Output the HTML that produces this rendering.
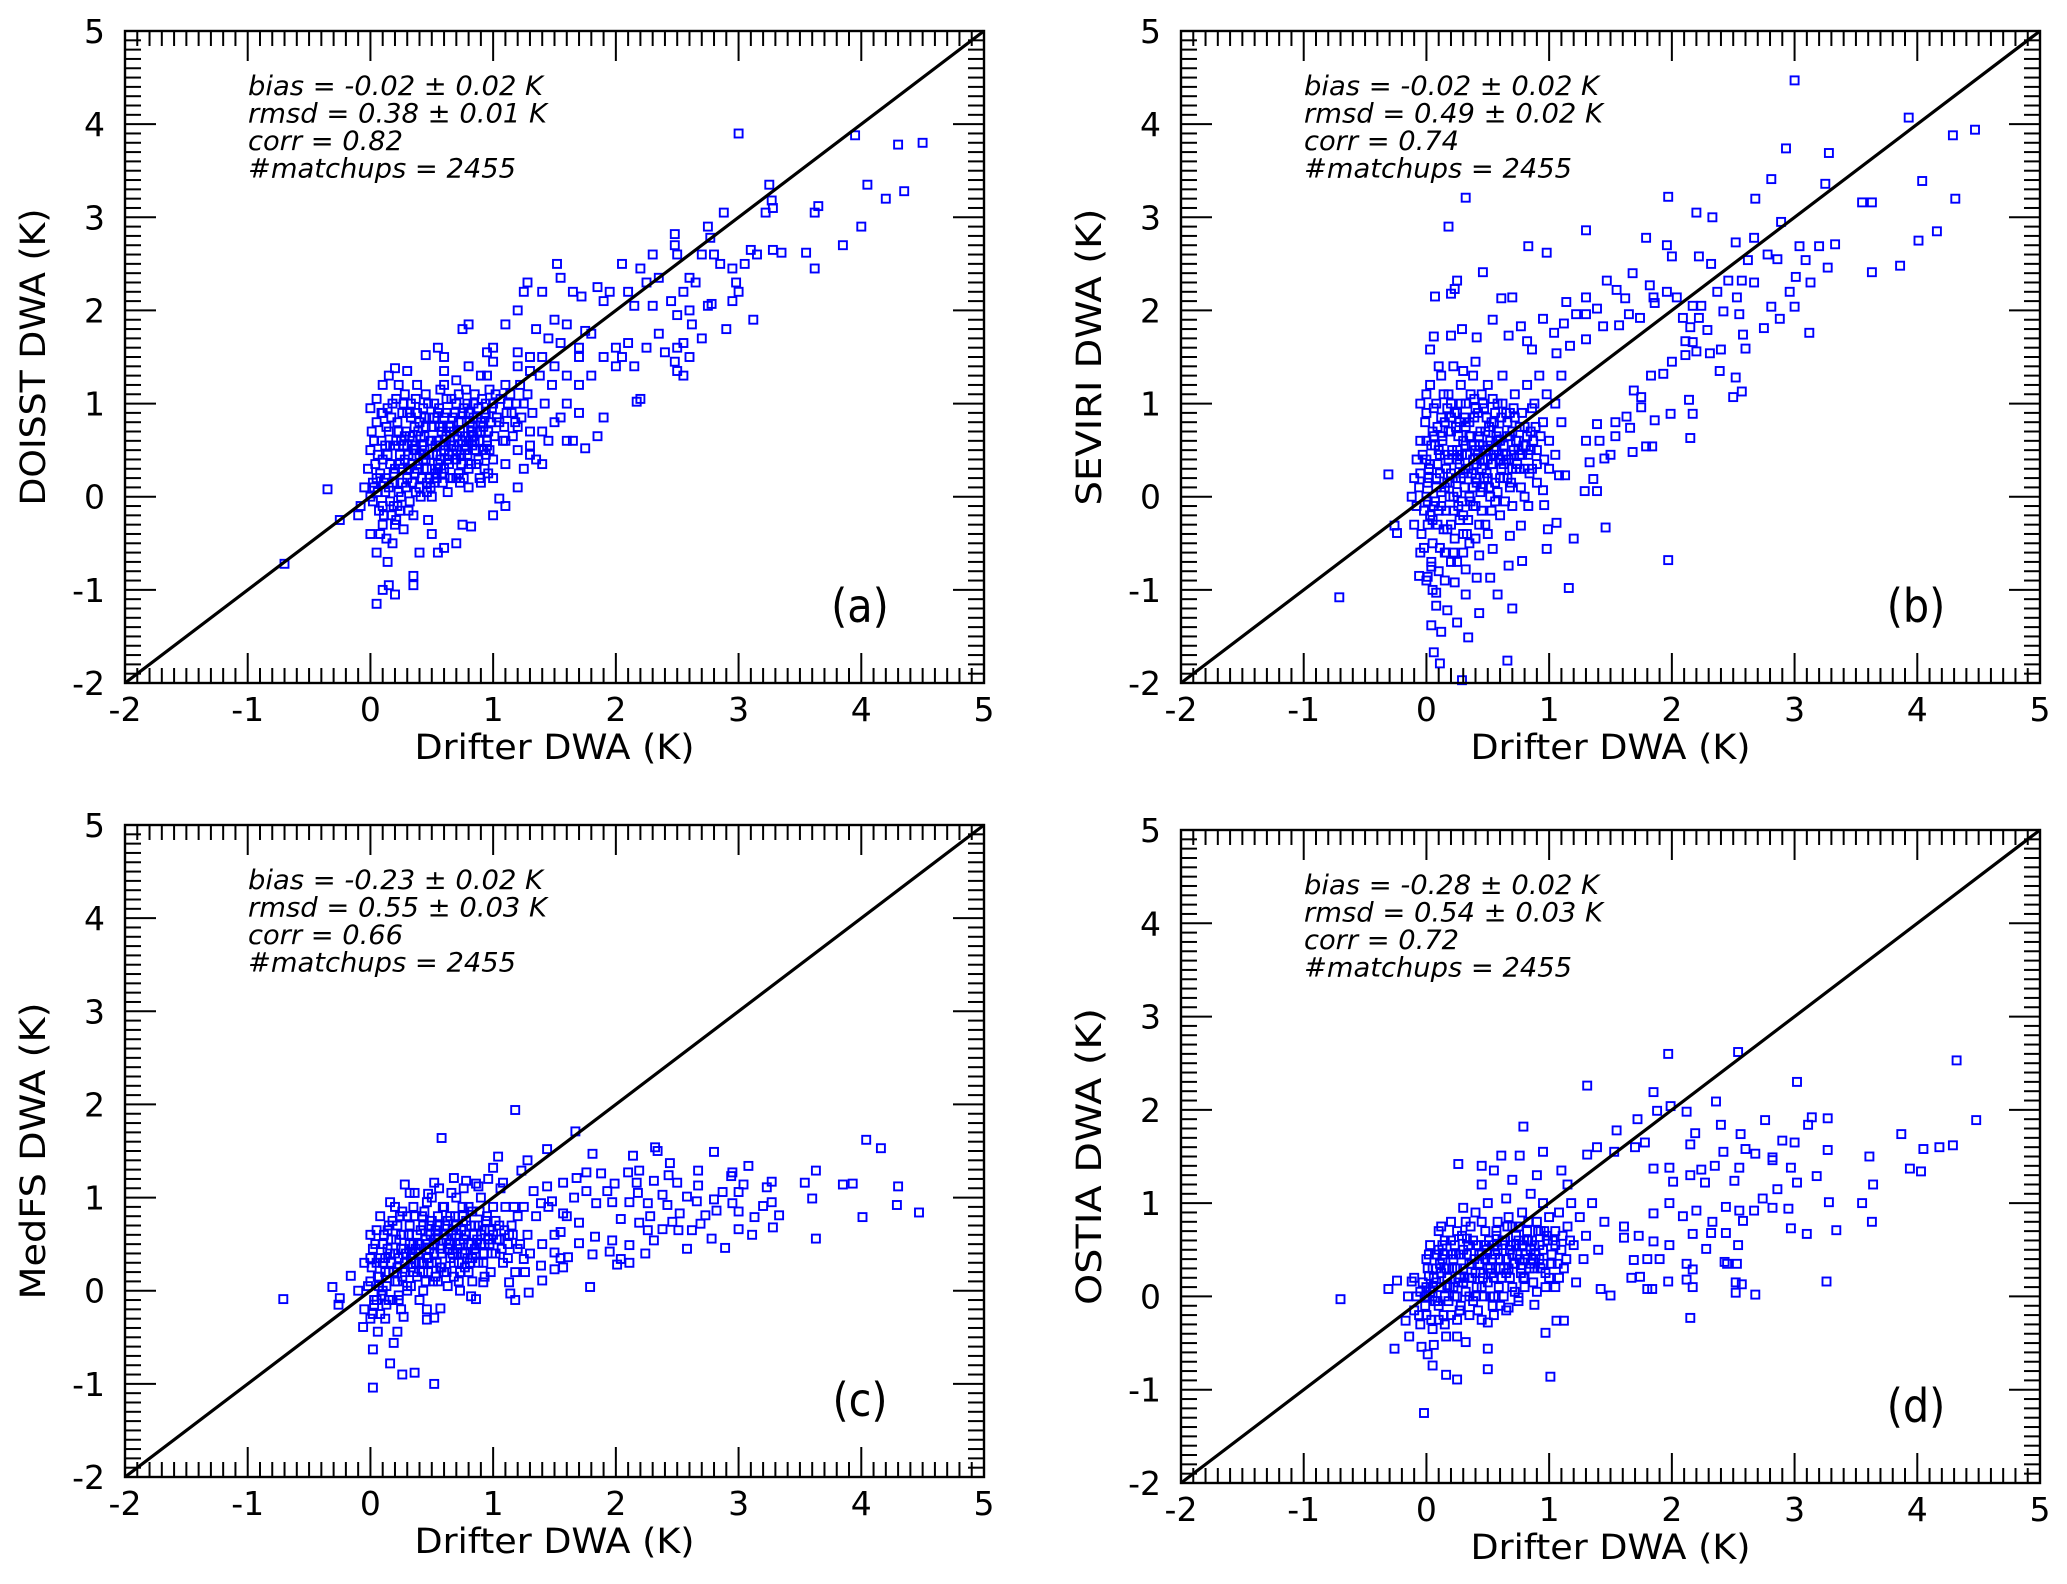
<!DOCTYPE html>
<html><head><meta charset="utf-8">
<style>
html,body{margin:0;padding:0;background:#fff;}
svg{display:block;}
text{font-family:"DejaVu Sans","Liberation Sans",sans-serif;fill:#000;}
.stat{font-family:"DejaVu Sans Condensed","DejaVu Sans","Liberation Sans",sans-serif;font-style:italic;font-size:27px;}
.plab{font-family:"DejaVu Sans Condensed","DejaVu Sans","Liberation Sans",sans-serif;font-size:46px;}
</style></head>
<body>
<svg id="fig" width="2067" height="1584" viewBox="0 0 2067 1584" xmlns="http://www.w3.org/2000/svg"></svg>
<script>
const xTicks=[-2,-1,0,1,2,3,4,5];
const yTicks=[-2,-1,0,1,2,3,4,5];
const panelLetters=["(a)","(b)","(c)","(d)"];
const yTitles=["DOISST DWA (K)","SEVIRI DWA (K)","MedFS DWA (K)","OSTIA DWA (K)"];
const statsA=["bias = -0.02 \u00b1 0.02 K","rmsd = 0.38 \u00b1 0.01 K","corr = 0.82","#matchups = 2455"];
const statsB=["bias = -0.02 \u00b1 0.02 K","rmsd = 0.49 \u00b1 0.02 K","corr = 0.74","#matchups = 2455"];
const statsC=["bias = -0.23 \u00b1 0.02 K","rmsd = 0.55 \u00b1 0.03 K","corr = 0.66","#matchups = 2455"];
const statsD=["bias = -0.28 \u00b1 0.02 K","rmsd = 0.54 \u00b1 0.03 K","corr = 0.72","#matchups = 2455"];

const ptsA=[[3.0,3.9],[3.95,3.88],[4.3,3.78],[4.5,3.8],[3.25,3.35],[3.27,3.18],[3.28,3.1],[3.22,3.05],[4.05,3.35],[4.2,3.2],[4.35,3.28],[3.65,3.12],[3.62,3.05],[4.0,2.9],[3.85,2.7],[3.55,2.62],[3.62,2.45],[3.35,2.62],[3.28,2.65],[3.1,2.65],[3.15,2.6],[3.05,2.5],[2.95,2.45],[2.98,2.3],[3.0,2.2],[2.95,2.1],[3.12,1.9],[2.85,2.5],[2.8,2.6],[2.75,2.9],[2.88,3.05],[2.77,2.78],[2.48,2.82],[2.48,2.7],[2.3,2.6],[2.05,2.5],[2.2,2.45],[2.5,2.6],[2.7,2.6],[2.25,2.3],[2.35,2.35],[2.45,2.1],[2.55,2.2],[2.6,2.35],[2.65,2.3],[2.1,2.2],[1.95,2.2],[2.15,2.05],[2.3,2.05],[2.5,1.95],[2.6,2.0],[2.62,1.85],[2.75,2.05],[2.78,2.07],[2.9,1.8],[2.55,1.65],[2.7,1.7],[2.5,1.6],[2.4,1.55],[2.35,1.75],[2.48,1.45],[2.6,1.5],[2.5,1.35],[2.55,1.3],[2.25,1.6],[2.1,1.65],[2.05,1.5],[2.0,1.4],[2.15,1.4],[2.2,1.05],[2.17,1.02],[1.9,0.85],[1.7,0.9],[1.85,0.65],[1.65,0.6],[1.6,0.6],[1.75,0.52],[1.52,2.5],[1.55,2.35],[1.28,2.3],[1.25,2.2],[1.4,2.2],[1.65,2.2],[1.72,2.15],[1.85,2.25],[1.9,2.1],[1.2,2.0],[0.8,1.85],[0.75,1.8],[1.1,1.85],[1.35,1.8],[1.5,1.9],[1.6,1.85],[1.75,1.78],[1.8,1.75],[0.55,1.6],[0.45,1.52],[0.6,1.5],[1.0,1.6],[0.95,1.55],[0.2,1.38],[0.3,1.35],[0.15,1.3],[1.2,1.55],[1.3,1.5],[1.45,1.7],[1.55,1.65],[1.7,1.6],[1.9,1.5],[2.0,1.6],[-0.7,-0.72],[-0.35,0.08],[-0.25,-0.25],[-0.1,-0.2],[0.05,-1.15],[0.1,-1.0],[0.15,-0.95],[0.2,-1.05],[0.35,-0.95],[0.35,-0.85],[0.55,-0.6],[0.6,-0.55],[0.4,-0.6],[0.7,-0.5],[0.75,-0.3],[0.5,-0.4],[0.82,-0.32],[1.0,-0.2],[1.2,0.1],[1.05,-0.02],[1.1,-0.1],[1.25,0.3],[1.4,0.35],[1.35,0.4],[1.3,0.55],[1.45,0.6],[1.55,0.85],[1.1,0.6],[1.2,0.75],
[0,0],[0.05,0.2],[0.1,-0.1],[0.1,0.4],[0.15,0.1],[0.15,0.7],[0.2,0.3],[0.2,-0.3],[0.25,0.6],[0.25,0.0],[0.3,0.9],[0.3,0.2],[0.35,0.5],[0.35,-0.2],[0.4,0.8],[0.4,0.1],[0.45,0.4],[0.45,1.1],[0.5,0.6],[0.5,0.0],[0.55,0.9],[0.55,0.3],[0.6,0.5],[0.6,1.2],[0.65,0.7],[0.65,0.2],[0.7,1.0],[0.7,0.4],[0.75,0.6],[0.8,0.9],[0.8,0.3],[0.85,1.1],[0.85,0.5],[0.9,0.8],[0.95,1.3],[0.95,0.6],[1.0,1.0],[1.0,0.4],[1.05,0.8],[1.1,1.2],[1.15,0.9],[1.2,1.4],[1.25,1.0],[1.3,0.7],[0.0,0.5],[0.0,-0.4],[0.05,0.8],[0.05,-0.6],[0.1,0.9],[0.1,-0.3],[0.12,0.55],[0.18,1.0],[0.18,-0.5],[0.22,0.8],[0.22,-0.1],[0.28,1.1],[0.28,0.4],[0.32,0.65],[0.32,-0.05],[0.38,1.2],[0.38,0.3],[0.42,0.55],[0.48,0.85],[0.48,0.2],[0.52,1.0],[0.58,0.7],[0.62,0.9],[0.68,0.55],[0.72,0.8],[0.78,1.15],[0.82,0.7],[0.88,0.95],[0.92,0.5],[0.98,0.8],[1.02,1.1],[1.08,0.6],[1.12,1.0],[1.18,0.8],[1.22,1.2],[1.28,1.1],[1.32,0.9],[1.38,1.3],[1.42,1.0],[1.48,1.2],[0.02,0.15],[0.08,0.25],[0.12,0.05],[0.16,0.35],[0.24,0.45],[0.26,0.15],[0.34,0.35],[0.36,0.75],[0.44,0.65],[0.46,0.15],[0.54,0.45],[0.56,0.75],[0.64,0.45],[0.66,1.05],[0.74,0.35],[0.76,0.95],[0.84,0.85],[0.86,0.35],[0.94,1.0],[0.96,0.25],[-0.05,0.1],[-0.08,-0.1],[-0.02,0.3],[0.03,0.6],[0.07,-0.15],[0.13,0.75],[0.17,-0.2],[0.23,1.2],[0.27,-0.35],[0.33,1.0],[0.37,0.05],[0.43,0.95],[0.47,-0.25],[0.53,0.25],[0.57,1.15],[0.63,0.05],[0.67,0.85],[0.73,0.15],[0.77,0.5],[0.83,0.55],[0.87,0.7],[0.93,0.3],[0.97,1.15],[0.0,0.95],[0.05,1.05],[0.1,1.2],[0.14,-0.7],[0.2,0.55],[0.3,0.55],[0.4,0.45],[0.5,0.3],[0.6,0.3],[0.7,0.2],[0.8,0.1],[0.9,0.15],[1.0,0.2],[1.1,0.35],[1.2,0.5],[1.3,0.45],[1.4,0.7],[1.5,0.8],[1.6,1.0],[1.7,1.2],[1.8,1.3],[1.6,1.3],[1.7,1.5],[1.5,1.4],[1.4,1.5],[1.3,1.35],[1.0,1.45],[0.9,1.3],[0.8,1.4],[0.7,1.25],[0.6,1.35]];
const coreA=[[0.02,-0.05],[0.04,0.35],[0.06,0.05],[0.09,0.6],[0.11,-0.2],[0.13,0.2],[0.14,0.45],[0.16,-0.05],[0.17,0.85],[0.19,0.25],[0.21,0.6],[0.21,-0.25],[0.23,0.05],[0.24,0.35],[0.26,0.9],[0.27,0.55],[0.29,0.1],[0.29,0.7],[0.31,0.3],[0.31,-0.15],[0.33,0.85],[0.34,0.15],[0.36,0.5],[0.37,1.05],[0.39,0.35],[0.39,0.7],[0.41,0.0],[0.42,0.2],[0.44,0.85],[0.44,0.5],[0.46,0.3],[0.47,1.0],[0.49,0.6],[0.49,0.1],[0.51,0.45],[0.52,0.85],[0.54,0.2],[0.54,0.6],[0.56,0.95],[0.57,0.4],[0.59,0.75],[0.59,0.15],[0.61,0.55],[0.62,1.05],[0.64,0.35],[0.64,0.75],[0.66,0.55],[0.67,0.2],[0.69,0.9],[0.69,0.4],[0.71,0.65],[0.72,1.1],[0.74,0.45],[0.74,0.8],[0.76,0.2],[0.77,0.65],[0.79,1.0],[0.79,0.45],[0.81,0.8],[0.82,0.35],[0.84,0.65],[0.84,1.0],[0.86,0.5],[0.87,0.85],[0.89,0.6],[0.89,0.2],[0.91,1.05],[0.92,0.75],[0.94,0.45],[0.94,0.9],[0.96,0.7],[0.97,0.5],[0.99,0.95],[1.01,0.65],[1.03,0.85],[1.06,1.05],[1.09,0.75],[1.11,0.9],[1.14,1.1],[1.16,0.65],[1.19,1.0],[1.23,0.85],[0.01,0.7],[0.03,0.1],[0.06,0.45],[0.08,-0.4],[0.09,0.9],[0.11,0.15],[0.13,-0.45],[0.14,0.95],[0.16,0.55],[0.18,0.15],[0.19,-0.1],[0.21,1.05],[0.23,0.7],[0.24,-0.15],[0.26,0.3],[0.27,1.0],[0.28,0.65],[0.31,0.45],[0.32,0.9],[0.34,0.6],[0.36,0.25],[0.37,0.55],[0.38,0.9],[0.41,0.65],[0.43,0.4],[0.45,0.75],[0.46,0.05],[0.48,0.45],[0.5,0.75],[0.52,0.15],[0.53,0.55],[0.55,0.35],[0.57,0.55],[0.58,0.25],[0.6,0.85],[0.62,0.65],[0.63,0.4],[0.65,0.6],[0.67,0.45],[0.68,0.7],[0.7,0.5],[0.72,0.25],[0.73,0.7],[0.75,0.9],[0.78,0.55],[0.8,0.6],[0.83,0.75],[0.85,0.6],[0.88,0.4],[0.9,0.7],[0.93,0.85],[0.95,0.55]];

const ptsB=[[3.0,4.47],[3.93,4.07],[4.29,3.88],[4.47,3.94],[2.93,3.74],[3.28,3.69],[2.81,3.41],[3.25,3.36],[4.04,3.39],[4.31,3.2],[3.55,3.16],[3.63,3.16],[2.68,3.2],[2.89,2.95],[4.16,2.85],[4.01,2.75],[3.86,2.48],[3.63,2.41],[3.33,2.71],[3.2,2.69],[3.04,2.69],[3.09,2.54],[3.27,2.46],[3.01,2.36],[3.13,2.3],[2.96,2.2],[3.0,2.04],[2.81,2.04],[2.88,1.91],[2.75,1.81],[3.12,1.76],[2.67,2.78],[2.52,2.73],[1.97,3.22],[2.2,3.05],[2.33,3.0],[1.79,2.78],[1.96,2.7],[2.0,2.58],[2.22,2.58],[2.32,2.5],[2.62,2.54],[2.78,2.6],[2.86,2.55],[2.46,2.32],[2.57,2.32],[2.67,2.3],[2.53,2.14],[2.42,1.99],[2.55,1.96],[2.4,1.58],[2.6,1.59],[2.58,1.74],[2.39,1.35],[2.52,1.28],[2.57,1.13],[2.5,1.07],[2.14,1.04],[2.17,0.89],[1.99,0.89],[2.15,0.63],[1.79,0.54],[1.97,-0.68],[1.66,0.74],[1.86,0.82],[1.75,0.96],[1.46,-0.33],[1.16,-0.98],[1.2,-0.45],[0.98,-0.56],[1.06,-0.28],[0.99,-0.35],[1.39,0.06],[1.29,0.06],[1.36,0.19],[0.7,-1.2],[0.58,-1.05],[0.43,-1.25],[0.32,-1.05],[0.08,-1.17],[0.17,-1.22],[0.25,-1.35],[0.12,-1.45],[0.04,-1.38],[0.34,-1.51],[0.06,-1.67],[0.11,-1.79],[0.66,-1.76],[0.29,-1.97],[-0.71,-1.08],[-0.31,0.24],[-0.26,-0.31],[-0.24,-0.39],[-0.06,-0.85],[0.01,-0.86],[0.08,-1.03],[0.23,-0.92],[0.41,-0.87],[0.52,-0.87],[0.32,-0.78],[0.43,-0.63],[0.54,-0.56],[0.67,-0.74],[0.78,-0.69],[0.68,-0.42],[0.77,-0.31],[0.83,-0.1],[0.96,-0.09],[0.95,0.07],[1.08,0.23],[1.13,0.23],[1.33,0.37],[1.45,0.41],[1.5,0.45],[1.68,0.48],[1.84,0.54],[1.54,0.65],[1.41,0.6],[1.3,0.6],[1.39,0.78],[1.54,0.8],[1.63,0.86],[1.75,1.07],[1.69,1.14],[1.83,1.3],[1.93,1.32],[2.0,1.45],[2.11,1.52],[2.2,1.56],[2.17,1.66],[2.31,1.54],[2.29,1.79],[2.11,1.67],[2.15,1.82],[2.09,1.92],[2.22,1.92],[2.24,2.05],[2.37,2.2],[2.17,2.05],[2.04,2.14],[1.96,2.2],[1.86,2.08],[1.85,2.14],[1.68,2.4],[1.82,2.27],[1.55,2.22],[1.47,2.32],[1.62,2.13],[1.65,1.96],[1.74,1.92],[1.57,1.84],[1.44,1.83],[1.39,2.02],[1.3,2.14],[1.3,1.96],[1.22,1.96],[1.14,2.09],[1.12,1.86],[0.95,1.91],[0.77,1.83],[0.54,1.9],[0.7,2.14],[0.61,2.13],[0.46,2.41],[0.25,2.32],[0.23,2.23],[0.2,2.18],[0.07,2.15],[0.32,3.21],[0.18,2.9],[0.83,2.69],[0.98,2.62],[1.3,2.86],[0.29,1.8],[0.06,1.72],[0.2,1.73],[0.41,1.71],[0.03,1.58],[0.67,1.73],[0.82,1.67],[1.04,1.76],[1.17,1.62],[1.3,1.69],[0.86,1.58],[1.06,1.54],
[-0.1,0.2],[-0.1,-0.3],[-0.05,0.6],[-0.05,-0.6],[0,0],[0,0.9],[0,-0.9],[0,0.4],[0.03,1.2],[0.03,-0.2],[0.05,0.7],[0.05,-0.5],[0.08,0.2],[0.08,1.0],[0.1,-0.8],[0.1,0.5],[0.12,-0.1],[0.12,1.3],[0.15,0.8],[0.15,0.1],[0.15,-0.6],[0.18,0.4],[0.18,1.1],[0.2,-0.3],[0.2,0.7],[0.22,0],[0.22,1.4],[0.25,0.5],[0.25,-0.7],[0.25,0.9],[0.28,0.2],[0.28,1.2],[0.3,-0.2],[0.3,0.6],[0.32,1.0],[0.32,0.3],[0.35,-0.5],[0.35,0.8],[0.38,0.1],[0.38,1.3],[0.4,0.5],[0.4,-0.1],[0.42,0.9],[0.45,0.3],[0.45,1.1],[0.48,-0.3],[0.48,0.7],[0.5,0.4],[0.5,1.2],[0.52,0],[0.55,0.8],[0.55,0.5],[0.58,1.0],[0.6,0.2],[0.6,0.6],[0.62,1.3],[0.65,0.4],[0.65,0.9],[0.68,0.1],[0.7,0.7],[0.72,1.1],[0.75,0.5],[0.78,0.9],[0.8,0.3],[0.82,1.2],[0.85,0.7],[0.88,1.0],[0.9,0.5],[0.92,1.3],[0.95,0.8],[0.98,1.1],[1.0,0.6],[1.05,1.0],[1.1,0.8],[1.1,1.3],[0.02,0.3],[0.06,-0.1],[0.07,0.55],[0.11,0.25],[0.13,0.65],[0.14,-0.35],[0.17,0.95],[0.19,0.15],[0.21,0.45],[0.23,-0.45],[0.24,0.75],[0.27,0.35],[0.29,-0.05],[0.31,0.85],[0.33,0.45],[0.34,-0.25],[0.36,0.65],[0.37,0.25],[0.39,1.05],[0.41,0.35],[0.43,0.65],[0.44,0.05],[0.46,0.55],[0.47,0.95],[0.49,0.25],[0.51,0.75],[0.53,0.35],[0.54,1.05],[0.56,0.15],[0.57,0.65],[0.59,0.45],[0.61,0.85],[0.63,0.35],[0.66,0.65],[0.69,0.45],[0.71,0.95],[0.73,0.3],[0.76,0.75],[0.79,0.55],[0.83,0.45],[0.86,0.95],[0.89,0.75],[-0.12,0.0],[-0.08,0.4],[-0.02,-0.15],[0.01,0.15],[0.04,-0.7],[0.09,-0.3],[0.16,-0.15],[0.26,-0.1],[0.36,-0.05],[0.46,0.1],[0.56,-0.05],[0.66,0.2],[0.76,0.3],[0.86,0.3],[0.96,0.4],[0.0,1.1],[0.1,1.4],[0.2,1.0],[0.3,1.35],[0.4,1.45],[-0.05,1.0],[0.05,-1.0],[0.15,-0.9],[0.2,-0.7],[0.3,-0.6],[0.4,-0.45],[0.5,-0.4],[0.6,-0.2],[0.7,-0.1],[0.8,0.0],[0.9,0.15],[1.0,0.3],[1.05,0.45]];
const coreB=[[-0.06,0.1],[-0.04,-0.4],[-0.03,0.45],[-0.01,0.8],[0.01,-0.3],[0.02,0.2],[0.04,0.55],[0.04,-0.75],[0.06,0.95],[0.07,-0.05],[0.09,0.35],[0.09,0.75],[0.11,-0.55],[0.12,0.05],[0.13,0.6],[0.14,1.1],[0.16,0.3],[0.17,-0.35],[0.18,0.7],[0.19,0.0],[0.21,0.5],[0.22,-0.6],[0.23,0.9],[0.24,0.2],[0.26,0.65],[0.27,-0.25],[0.28,1.0],[0.29,0.45],[0.31,0.1],[0.32,0.75],[0.33,-0.4],[0.34,0.3],[0.36,1.1],[0.37,0.55],[0.38,-0.1],[0.39,0.85],[0.41,0.15],[0.42,0.45],[0.43,-0.3],[0.44,0.7],[0.46,1.0],[0.47,0.2],[0.48,0.5],[0.49,0.85],[0.51,0.1],[0.52,0.6],[0.53,-0.15],[0.54,0.35],[0.56,0.9],[0.57,0.5],[0.58,0.05],[0.59,0.7],[0.61,0.3],[0.62,1.0],[0.63,0.55],[0.64,-0.05],[0.66,0.8],[0.67,0.4],[0.68,0.65],[0.69,0.15],[0.71,0.5],[0.72,0.85],[0.74,0.35],[0.75,0.6],[0.77,0.1],[0.78,0.45],[0.8,0.75],[0.81,0.55],[0.84,0.25],[0.87,0.6],[0.9,0.35],[0.93,0.65],[-0.08,-0.1],[-0.05,0.25],[-0.02,-0.55],[0.0,0.6],[0.01,-0.05],[0.03,0.35],[0.05,-0.25],[0.06,0.65],[0.08,0.1],[0.1,-0.15],[0.11,0.45],[0.12,0.85],[0.15,0.45],[0.16,-0.6],[0.17,0.15],[0.2,0.85],[0.2,0.25],[0.22,-0.15],[0.25,0.05],[0.25,0.4],[0.27,0.8],[0.3,0.25],[0.3,-0.4],[0.32,0.55],[0.35,0.0],[0.35,0.65],[0.38,0.4],[0.4,0.95],[0.4,0.2],[0.43,0.55],[0.45,-0.15],[0.46,0.4],[0.5,0.55],[0.5,0.2],[0.53,0.8],[0.55,0.45],[0.58,0.6],[0.6,0.4],[0.63,0.2],[0.65,0.45],[0.68,0.9],[0.7,0.3],[0.73,0.6],[0.76,0.45],[0.82,0.65],[0.85,0.5]];

const ptsC=[[1.18,1.94],[0.58,1.64],[1.67,1.71],[1.44,1.52],[1.04,1.44],[1.28,1.4],[1.0,1.32],[1.23,1.29],[4.04,1.62],[4.16,1.53],[2.8,1.49],[2.32,1.54],[2.34,1.5],[2.14,1.45],[1.81,1.47],[2.44,1.37],[2.67,1.29],[3.08,1.34],[2.95,1.27],[2.94,1.23],[3.63,1.29],[1.88,1.26],[1.76,1.27],[2.1,1.27],[2.19,1.29],[2.43,1.24],[3.27,1.17],[3.54,1.16],[3.85,1.14],[3.93,1.15],[4.3,1.12],[3.23,1.11],[3.04,1.14],[2.67,1.13],[2.5,1.16],[2.31,1.18],[2.17,1.16],[1.99,1.15],[1.93,1.07],[2.18,1.05],[2.38,1.03],[2.58,1.01],[2.87,1.06],[3.0,1.06],[2.8,0.98],[2.66,0.96],[2.95,0.94],[3.2,0.91],[3.27,0.95],[3.6,0.99],[4.29,0.92],[4.47,0.84],[4.01,0.79],[3.33,0.81],[3.13,0.79],[3.0,0.85],[2.82,0.86],[2.73,0.81],[2.52,0.83],[2.42,0.92],[2.26,0.94],[2.11,0.95],[1.97,0.95],[1.84,0.94],[2.04,0.77],[2.19,0.73],[2.28,0.8],[2.46,0.74],[2.69,0.72],[2.62,0.65],[2.51,0.65],[2.38,0.66],[2.26,0.65],[3.0,0.66],[3.11,0.6],[3.28,0.68],[3.63,0.56],[2.78,0.56],[2.58,0.45],[2.89,0.46],[2.31,0.54],[2.24,0.4],[2.11,0.49],[1.97,0.54],[1.83,0.58],[1.95,0.42],[2.04,0.34],[2.01,0.28],[2.11,0.3],[1.81,0.39],[1.79,0.04],[1.61,0.36],[1.57,0.25],[1.5,0.23],[1.4,0.11],[1.29,-0.02],[1.18,-0.1],[1.14,-0.03],[0.86,-0.09],[0.57,-0.19],[0.46,-0.2],[0.52,-0.29],[0.19,-0.56],[0.02,-0.63],[0.16,-0.78],[0.26,-0.9],[0.36,-0.88],[0.52,-1.0],[0.02,-1.04],[-0.71,-0.09],[-0.31,0.04],[-0.25,-0.08],[-0.26,-0.15],[-0.16,0.16],[-0.06,-0.39],[0.06,-0.44],[0.22,-0.44],[0.27,-0.28],[0.46,-0.31],[0.82,-0.06],[1.13,0.09],[0.92,0.09],[1.26,0.2],[1.39,0.27],[1.25,0.34],[1.5,0.41],[1.7,0.51],[1.55,0.63],[1.7,0.73],[1.57,0.83],[1.48,0.96],[1.66,1.0],[1.76,1.07],[1.57,1.16],[1.68,1.21],[1.44,1.12],[1.33,1.07],[1.39,0.94],[0.28,1.14],[0.32,1.05],[0.47,1.04],[0.68,1.21],[0.78,1.18],[0.52,1.16],[0.88,1.12],[1.08,1.16],
[-0.1,0],[-0.05,-0.2],[-0.05,0.3],[0,0.1],[0,-0.3],[0,0.6],[0.05,0.3],[0.05,-0.1],[0.08,0.8],[0.1,0.0],[0.1,0.5],[0.12,-0.3],[0.15,0.2],[0.15,0.7],[0.18,-0.1],[0.2,0.4],[0.2,0.9],[0.22,0.1],[0.25,0.6],[0.25,-0.2],[0.28,0.3],[0.3,0.8],[0.3,0.0],[0.32,0.5],[0.35,0.2],[0.35,0.9],[0.38,0.6],[0.4,0.3],[0.4,-0.1],[0.42,0.8],[0.45,0.5],[0.45,0.1],[0.48,0.7],[0.5,0.3],[0.5,1.0],[0.52,0.5],[0.55,0.1],[0.55,0.8],[0.58,0.4],[0.6,0.6],[0.6,0.9],[0.62,0.2],[0.65,0.5],[0.65,0.8],[0.68,0.3],[0.7,0.6],[0.7,1.0],[0.72,0.1],[0.75,0.4],[0.75,0.8],[0.78,0.6],[0.8,0.2],[0.8,0.9],[0.82,0.5],[0.85,0.7],[0.88,0.3],[0.9,0.6],[0.9,1.0],[0.92,0.4],[0.95,0.8],[0.98,0.2],[1.0,0.6],[1.0,0.9],[1.02,0.4],[1.05,0.7],[1.08,0.3],[1.1,0.9],[1.12,0.5],[1.15,0.7],[1.18,0.2],[1.2,0.8],[1.22,0.5],[1.25,0.9],[1.28,0.6],[1.3,0.4],[1.35,0.8],[1.4,0.5],[1.45,0.9],[1.5,0.6],[1.55,0.35],[1.6,0.8],[0.02,0.45],[0.07,0.15],[0.12,0.35],[0.17,0.55],[0.22,0.25],[0.27,0.45],[0.33,0.35],[0.37,0.45],[0.43,0.2],[0.47,0.35],[0.53,0.65],[0.57,0.25],[0.63,0.45],[0.67,0.65],[0.73,0.5],[0.77,0.25],[0.83,0.35],[0.87,0.55],[0.93,0.65],[0.97,0.5],[1.03,0.55],[1.07,0.45],[1.13,0.6],[1.17,0.9],[0.03,-0.15],[0.08,-0.25],[0.13,0.05],[0.23,-0.05],[0.33,0.05],[0.43,0.0],[0.53,0.15],[0.63,0.05],[0.73,0.0],[0.83,0.1],[0.93,0.15],[0.16,0.95],[0.26,0.85],[0.36,1.05],[0.46,0.95],[0.56,1.1],[0.66,1.05],[0.76,1.1],[0.86,1.15],[0.96,1.2],[1.06,1.1]];
const coreC=[[-0.02,0.05],[0.01,0.25],[0.03,-0.1],[0.04,0.5],[0.06,0.15],[0.08,0.35],[0.09,-0.05],[0.11,0.6],[0.12,0.2],[0.14,0.45],[0.15,-0.1],[0.17,0.3],[0.18,0.75],[0.2,0.1],[0.21,0.55],[0.23,0.35],[0.24,0.8],[0.26,0.15],[0.27,0.6],[0.29,0.4],[0.3,0.05],[0.32,0.7],[0.33,0.25],[0.35,0.5],[0.36,0.8],[0.38,0.15],[0.39,0.4],[0.41,0.65],[0.42,0.3],[0.44,0.85],[0.45,0.55],[0.47,0.2],[0.48,0.45],[0.5,0.75],[0.51,0.1],[0.53,0.55],[0.54,0.3],[0.56,0.7],[0.57,0.45],[0.59,0.9],[0.6,0.2],[0.62,0.55],[0.63,0.75],[0.65,0.35],[0.66,0.6],[0.68,0.15],[0.69,0.8],[0.71,0.45],[0.72,0.3],[0.74,0.65],[0.75,0.9],[0.77,0.4],[0.78,0.75],[0.8,0.5],[0.81,0.3],[0.83,0.85],[0.84,0.6],[0.86,0.4],[0.88,0.7],[0.9,0.5],[0.92,0.3],[0.94,0.75],[0.96,0.55],[0.99,0.4],[1.02,0.75],[1.05,0.55],[1.09,0.65],[1.12,0.35],[1.16,0.6],[1.2,0.45],[0.0,0.35],[0.02,-0.25],[0.05,0.65],[0.07,0.05],[0.1,0.3],[0.13,-0.15],[0.14,0.65],[0.16,0.4],[0.19,0.2],[0.22,0.7],[0.23,-0.1],[0.25,0.45],[0.28,0.2],[0.31,0.6],[0.34,0.4],[0.37,0.3],[0.4,0.5],[0.43,0.7],[0.46,0.35],[0.49,0.6],[0.52,0.4],[0.55,0.6],[0.58,0.25],[0.61,0.7],[0.64,0.5],[0.67,0.4],[0.7,0.7],[0.73,0.2],[0.76,0.55],[0.79,0.35],[0.82,0.7],[0.85,0.45],[0.89,0.85],[0.93,0.5],[0.97,0.65]];

const ptsD=[[2.54,2.62],[1.97,2.6],[4.32,2.53],[1.31,2.26],[3.02,2.3],[1.85,2.19],[2.36,2.09],[1.99,2.04],[2.12,1.98],[1.88,1.99],[1.72,1.9],[2.76,1.89],[3.14,1.92],[3.27,1.91],[4.48,1.89],[0.79,1.82],[2.4,1.84],[3.11,1.84],[1.55,1.78],[2.19,1.75],[2.56,1.74],[3.87,1.74],[1.39,1.6],[1.7,1.6],[1.78,1.65],[2.15,1.63],[2.9,1.67],[3.0,1.65],[4.18,1.6],[4.29,1.62],[4.05,1.58],[3.27,1.57],[3.61,1.5],[2.42,1.55],[2.6,1.58],[2.82,1.49],[2.68,1.53],[0.95,1.55],[0.76,1.51],[0.61,1.51],[0.26,1.42],[0.45,1.4],[1.31,1.52],[1.53,1.55],[3.94,1.37],[4.03,1.34],[2.97,1.38],[2.55,1.38],[2.82,1.46],[2.24,1.36],[1.85,1.37],[1.98,1.38],[2.35,1.4],[3.18,1.29],[3.02,1.22],[3.64,1.2],[2.86,1.15],[2.74,1.05],[2.51,1.24],[2.27,1.22],[2.15,1.3],[2.01,1.23],[3.28,1.01],[3.55,1.0],[3.63,0.8],[2.95,0.94],[2.82,0.95],[2.67,0.92],[2.55,0.92],[2.44,0.96],[2.97,0.73],[3.1,0.67],[3.34,0.71],[2.58,0.81],[2.33,0.8],[2.2,0.92],[2.09,0.86],[1.98,1.0],[1.85,0.89],[2.17,0.67],[2.32,0.68],[2.44,0.68],[2.54,0.55],[1.98,0.55],[1.85,0.59],[1.73,0.65],[1.61,0.63],[1.61,0.75],[1.8,0.4],[1.69,0.39],[1.9,0.4],[2.12,0.35],[2.28,0.51],[2.43,0.37],[2.45,0.35],[2.53,0.35],[2.17,0.29],[2.12,0.18],[2.17,0.1],[1.97,0.16],[1.8,0.08],[1.84,0.08],[2.52,0.15],[2.57,0.13],[2.52,0.04],[2.68,0.02],[3.26,0.16],[1.5,0.01],[1.42,0.08],[1.74,0.21],[1.67,0.2],[2.15,-0.23],[-0.02,-1.25],[1.01,-0.86],[0.25,-0.89],[0.16,-0.84],[0.05,-0.74],[0.5,-0.78],[0.5,-0.56],[0.01,-0.62],[0.06,-0.52],[-0.04,-0.54],[-0.26,-0.56],[-0.14,-0.43],[0.32,-0.49],[0.25,-0.43],[0.16,-0.43],[0.97,-0.39],[1.06,-0.26],[1.12,-0.26],[-0.7,-0.03],[-0.31,0.08],[-0.24,0.17],[-0.12,0.16],[-0.17,-0.26],[0.67,-0.12],[0.5,-0.28],[0.88,-0.09],[0.75,-0.01],
[-0.15,0],[-0.1,-0.15],[-0.1,0.2],[-0.05,0.05],[-0.05,-0.3],[0,0.1],[0,-0.2],[0,0.4],[0.05,0.0],[0.05,0.3],[0.05,-0.35],[0.08,0.15],[0.1,0.5],[0.1,-0.1],[0.12,0.25],[0.15,0.0],[0.15,0.6],[0.18,0.3],[0.2,-0.2],[0.2,0.45],[0.22,0.1],[0.25,0.7],[0.25,0.3],[0.28,-0.1],[0.3,0.5],[0.3,0.15],[0.32,0.8],[0.35,0.35],[0.35,0.0],[0.38,0.6],[0.4,0.25],[0.4,0.9],[0.42,-0.15],[0.45,0.45],[0.45,0.1],[0.48,0.7],[0.5,0.3],[0.5,1.0],[0.52,0.0],[0.55,0.55],[0.55,0.2],[0.58,0.8],[0.6,0.4],[0.6,-0.1],[0.62,0.6],[0.65,0.25],[0.65,1.05],[0.68,0.5],[0.7,0.1],[0.7,0.75],[0.72,0.35],[0.75,0.6],[0.75,-0.05],[0.78,0.9],[0.8,0.4],[0.8,0.2],[0.82,0.7],[0.85,0.5],[0.85,1.1],[0.88,0.3],[0.9,0.8],[0.9,0.05],[0.92,0.55],[0.95,0.35],[0.95,1.0],[0.98,0.65],[1.0,0.2],[1.0,0.85],[1.02,0.45],[1.05,0.7],[1.05,0.1],[1.08,0.9],[1.1,0.5],[1.12,0.3],[1.15,0.75],[1.18,1.0],[1.2,0.55],[1.22,0.15],[1.25,0.85],[1.28,0.4],[1.3,0.65],[1.35,1.0],[1.4,0.5],[1.45,0.8],[0.02,0.22],[0.07,-0.05],[0.13,0.4],[0.17,0.12],[0.23,0.55],[0.27,0.2],[0.33,0.62],[0.37,0.2],[0.43,0.35],[0.47,0.55],[0.53,0.4],[0.57,0.65],[0.63,0.3],[0.67,0.85],[0.73,0.55],[0.77,0.25],[0.83,0.6],[0.87,0.4],[0.93,0.7],[0.97,0.25],[1.03,0.6],[1.07,0.35],[0.1,0.7],[0.2,0.8],[0.3,0.95],[0.15,-0.3],[0.25,-0.25],[0.35,-0.2],[0.45,-0.25],[0.55,-0.2],[0.65,-0.15],[0.03,0.55],[0.12,0.75],[0.45,1.2],[0.55,1.35],[0.7,1.25],[0.9,1.3],[1.1,1.35],[1.15,1.2]];
const coreD=[[-0.08,0.0],[-0.06,-0.2],[-0.03,0.15],[-0.01,-0.1],[0.01,0.3],[0.03,0.05],[0.04,-0.25],[0.06,0.2],[0.07,0.45],[0.09,-0.05],[0.11,0.35],[0.12,0.1],[0.14,-0.2],[0.15,0.45],[0.17,0.2],[0.18,-0.05],[0.2,0.6],[0.21,0.3],[0.23,0.0],[0.24,0.45],[0.26,0.15],[0.27,-0.15],[0.29,0.65],[0.3,0.3],[0.32,0.05],[0.33,0.45],[0.35,0.2],[0.36,0.75],[0.38,-0.05],[0.39,0.4],[0.41,0.1],[0.42,0.55],[0.44,0.25],[0.45,0.8],[0.47,0.0],[0.48,0.4],[0.5,0.15],[0.51,0.6],[0.53,0.25],[0.54,-0.1],[0.56,0.45],[0.57,0.7],[0.59,0.1],[0.6,0.3],[0.62,0.55],[0.63,0.0],[0.65,0.4],[0.66,0.75],[0.68,0.2],[0.69,0.55],[0.71,0.35],[0.72,0.05],[0.74,0.45],[0.75,0.75],[0.77,0.3],[0.78,0.55],[0.8,0.1],[0.81,0.45],[0.83,0.8],[0.84,0.3],[0.86,0.6],[0.87,0.15],[0.89,0.45],[0.91,0.7],[0.93,0.3],[0.95,0.5],[0.97,0.1],[0.99,0.6],[1.02,0.35],[1.05,0.55],[1.08,0.2],[1.11,0.65],[1.14,0.4],[1.17,0.6],[0.0,0.0],[0.02,0.45],[0.05,0.1],[0.08,0.3],[0.1,-0.25],[0.13,0.55],[0.16,0.3],[0.19,0.1],[0.22,0.4],[0.25,0.0],[0.28,0.45],[0.31,0.2],[0.34,0.55],[0.37,0.35],[0.4,0.0],[0.43,0.45],[0.46,0.2],[0.49,0.5],[0.52,0.3],[0.55,0.0],[0.58,0.5],[0.61,0.2],[0.64,0.6],[0.67,0.3],[0.7,0.45],[0.73,0.65],[0.76,0.4],[0.79,0.2],[0.82,0.6],[0.85,0.35],[0.88,0.55],[0.92,0.4],[0.96,0.7]];

const NS="http://www.w3.org/2000/svg";
const svg=document.getElementById('fig');
function mk(tag,attrs,parent){const e=document.createElementNS(NS,tag);for(const k in attrs)e.setAttribute(k,attrs[k]);(parent||svg).appendChild(e);return e;}

const panels=[
 {L:125,R:984,T:31,B:683,pts:ptsA.concat(coreA),stats:statsA,id:'a',lblY:622},
 {L:1181,R:2040,T:31,B:683,pts:ptsB.concat(coreB),stats:statsB,id:'b',lblY:622},
 {L:125,R:984,T:825,B:1477,pts:ptsC.concat(coreC),stats:statsC,id:'c',lblY:1416},
 {L:1181,R:2040,T:830,B:1483,pts:ptsD.concat(coreD),stats:statsD,id:'d',lblY:1422}
];
const statLens=[295,299,155,268];

panels.forEach((p,i)=>{
 const g=mk('g',{});
 
 
 const xs=v=>p.L+(v-xTicks[0])/(xTicks[xTicks.length-1]-xTicks[0])*(p.R-p.L);
 const ys=v=>p.B-(v-yTicks[0])/(yTicks[yTicks.length-1]-yTicks[0])*(p.B-p.T);
 const pg=mk('g',{fill:'none',stroke:'#0000ff','stroke-width':1.9},g);
 
 
 p.pts.forEach(d=>{
  const r=mk('rect',{x:(xs(d[0])-4).toFixed(1),y:(ys(d[1])-4).toFixed(1),width:8,height:8},pg);
  
  
 });
 const ln=mk('line',{x1:xs(-2),y1:ys(-2),x2:xs(5),y2:ys(5),stroke:'#000','stroke-width':3.2},g);
 
 
 const tg=mk('g',{stroke:'#000','stroke-width':2},g);
 
 
 for(let k=-20;k<=50;k++){
  const v=k/10, major=(k%10===0), lx=major?30:15, ly=major?31:16;
  const X=xs(v), Y=ys(v);
  mk('line',{x1:X,y1:p.B,x2:X,y2:p.B-lx},tg);
  mk('line',{x1:X,y1:p.T,x2:X,y2:p.T+lx},tg);
  mk('line',{x1:p.L,y1:Y,x2:p.L+ly,y2:Y},tg);
  mk('line',{x1:p.R,y1:Y,x2:p.R-ly,y2:Y},tg);
 }
 const fr=mk('rect',{x:p.L,y:p.T,width:p.R-p.L,height:p.B-p.T,fill:'none',stroke:'#000','stroke-width':2.4},g);
 
 
 xTicks.forEach(v=>{
  const t=mk('text',{x:xs(v),y:p.B+38,'text-anchor':'middle','font-size':33},g);
  t.textContent=String(v);
  
  
 });
 yTicks.forEach(v=>{
  const t=mk('text',{x:p.L-20,y:ys(v)+12,'text-anchor':'end','font-size':33},g);
  t.textContent=String(v);
  
  
 });
 const xt=mk('text',{x:(p.L+p.R)/2,y:p.B+76,'text-anchor':'middle','font-size':35,textLength:280,lengthAdjust:'spacingAndGlyphs'},g);
 xt.textContent='Drifter DWA (K)';
 
 
 const cy=(p.T+p.B)/2, cx=p.L-80;
 const yt=mk('text',{x:cx,y:cy,'text-anchor':'middle','font-size':35,transform:`rotate(-90 ${cx} ${cy})`,textLength:297,lengthAdjust:'spacingAndGlyphs'},g);
 yt.textContent=yTitles[i];
 
 
 p.stats.forEach((s,j)=>{
  const t=mk('text',{x:p.L+123,y:p.T+64+j*27.5,class:'stat',textLength:statLens[j],lengthAdjust:'spacingAndGlyphs'},g);
  t.textContent=s;
  
  
 });
 const pl=mk('text',{x:p.L+735,y:p.lblY,'text-anchor':'middle',class:'plab'},g);
 pl.textContent=panelLetters[i];
 
 
});
</script>
</body></html>
